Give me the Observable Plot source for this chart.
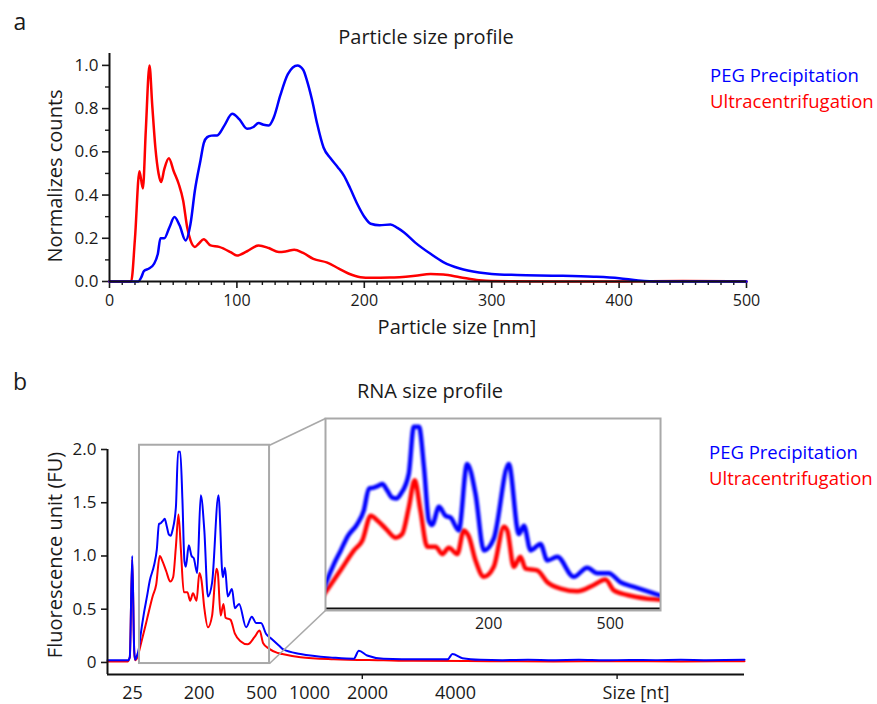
<!DOCTYPE html>
<html>
<head>
<meta charset="utf-8">
<script src="https://cdn.jsdelivr.net/npm/d3@7"></script>
<script src="https://cdn.jsdelivr.net/npm/@observablehq/plot@0.6"></script>
<style>
  body { margin: 0; background: #fff; }
  #page { position: relative; width: 877px; height: 704px; overflow: hidden; font-family: "Open Sans", sans-serif; color: #1a1a1a; background: #fff; }
  .lbl { position: absolute; white-space: nowrap; line-height: 1.2; }
</style>
</head>
<body>
<div id="page"></div>
<script>
// ---------------- Panel a: particle size profile ----------------
const sizeNmUC = [0, 17, 20, 23.5, 26.2, 28.5, 31.4, 33.5, 36, 38.5, 40.5, 43, 46.6, 50.4, 54.4, 57.8, 61, 63.6, 67, 70, 74, 79.3, 86, 95, 100, 108, 117, 125, 133, 139, 145, 152, 160, 171, 180, 188, 197, 205, 220, 240, 252, 262, 275, 290, 300, 350, 400, 450, 500];
const countsUC = [0, 0, 0.2, 0.51, 0.43, 0.7, 1.0, 0.82, 0.62, 0.5, 0.46, 0.52, 0.57, 0.51, 0.45, 0.375, 0.25, 0.19, 0.16, 0.175, 0.195, 0.167, 0.16, 0.136, 0.12, 0.14, 0.167, 0.155, 0.136, 0.14, 0.147, 0.132, 0.105, 0.087, 0.06, 0.036, 0.02, 0.017, 0.018, 0.027, 0.035, 0.032, 0.02, 0.006, 0.002, 0, 0, 0.002, 0];

const sizeNmPEG = [0, 22.5, 25, 27, 31, 35, 38, 40, 43, 47, 51, 55, 59.7, 63.6, 67, 71.4, 74, 76.7, 80, 84.5, 90, 96.3, 102, 108, 113, 117, 121, 125, 129, 134, 140, 147.5, 152, 155, 159, 163, 168, 173.5, 179, 184, 189, 194.4, 200, 205, 212, 220.6, 226, 231, 240, 252, 262, 275, 290, 300, 320, 350, 380, 400, 415, 430, 500];
const countsPEG = [0, 0, 0.02, 0.048, 0.06, 0.082, 0.13, 0.2, 0.2, 0.25, 0.298, 0.26, 0.19, 0.267, 0.42, 0.56, 0.64, 0.668, 0.675, 0.676, 0.72, 0.776, 0.75, 0.707, 0.715, 0.733, 0.725, 0.722, 0.76, 0.86, 0.96, 1.0, 0.98, 0.93, 0.84, 0.73, 0.62, 0.57, 0.53, 0.49, 0.43, 0.36, 0.3, 0.267, 0.26, 0.264, 0.248, 0.228, 0.18, 0.128, 0.09, 0.06, 0.042, 0.035, 0.03, 0.027, 0.022, 0.015, 0.005, 0, 0];

const aTicksX = [0, 100, 200, 300, 400, 500];
const aTicksY = [0, 0.2, 0.4, 0.6, 0.8, 1.0];

// ---------------- Panel b: RNA size profile (migration time axis) ----------------
const timePEG = [20, 21.6, 21.75, 21.94, 22.1, 22.17, 22.3, 22.46, 22.59, 22.87, 23.1, 23.32, 23.65, 23.87, 24.04, 24.2, 24.35, 24.49, 24.65, 24.82, 24.96, 25.1, 25.37, 25.54, 25.71, 25.88, 26.04, 26.15, 26.38, 26.6, 26.77, 27.04, 27.32, 27.6, 27.88, 28.21, 28.71, 29.05, 29.22, 29.44, 29.77, 30.0, 30.33, 30.88, 31.33, 31.67, 32.05, 32.44, 32.89, 33.45, 33.84, 35.15, 37.76, 39.33, 39.73, 40.38, 41.66, 44.57, 46.7, 47.08, 47.86, 49.28, 51, 53, 55, 57, 59, 61, 63, 65, 67, 70];
const fuPEG = [0.02, 0.02, 0.05, 1.0, 0.1, 0.025, 0.06, 0.13, 0.25, 0.47, 0.62, 0.77, 0.91, 1.06, 1.30, 1.31, 1.33, 1.35, 1.28, 1.20, 1.19, 1.24, 1.46, 1.98, 1.98, 1.53, 0.95, 0.90, 1.10, 1.0, 0.98, 0.84, 1.57, 1.24, 0.62, 0.75, 1.57, 0.80, 0.89, 0.62, 0.69, 0.51, 0.55, 0.33, 0.43, 0.37, 0.37, 0.27, 0.22, 0.16, 0.12, 0.08, 0.045, 0.035, 0.11, 0.065, 0.035, 0.03, 0.03, 0.08, 0.04, 0.025, 0.022, 0.026, 0.022, 0.025, 0.02, 0.024, 0.022, 0.025, 0.022, 0.025];

const timeUC = [20, 21.6, 21.75, 21.94, 22.1, 22.17, 22.35, 22.59, 23.09, 23.54, 23.82, 24.1, 24.32, 24.6, 24.93, 25.15, 25.37, 25.57, 25.76, 25.99, 26.27, 26.49, 26.71, 26.99, 27.21, 27.38, 27.6, 27.88, 28.21, 28.55, 28.66, 28.88, 29.1, 29.27, 29.66, 30.0, 30.44, 31.0, 31.55, 31.94, 32.22, 32.67, 33.34, 33.72, 35.15, 37.76, 41.66, 44, 50, 55, 60, 65, 70];
const fuUC = [0.01, 0.01, 0.05, 0.97, 0.1, 0.02, 0.05, 0.16, 0.40, 0.62, 0.73, 1.0, 0.95, 0.86, 0.76, 0.80, 1.09, 1.39, 1.06, 0.66, 0.66, 0.58, 0.65, 0.58, 0.84, 0.77, 0.51, 0.33, 0.44, 0.88, 0.84, 0.44, 0.55, 0.42, 0.40, 0.27, 0.2, 0.17, 0.24, 0.30, 0.18, 0.13, 0.09, 0.08, 0.05, 0.03, 0.02, 0.015, 0.012, 0.01, 0.012, 0.01, 0.012];

const bTicksY = [0, 0.5, 1.0, 1.5, 2.0];
const bTicksX = [40, 60];
const ladderSizes = ["25", "200", "500", "1000", "2000", "4000"];
const ladderTimes = [21.96, 27.2, 32.09, 35.86, 40.41, 47.32];
const insetSizes = ["200", "500"];
const insetTimes = [28.04, 32.1];

// zoom window (main chart units) and inset placement (main chart units)
const zoomT = [22.51, 32.72], zoomFu = [-0.01, 2.04];
const insetBoxT = [37.11, 63.41], insetBoxFu = [0.488, 2.291];
const insetT = [22.59, 33.78], insetFu = [-0.04, 2.07];

const BLUE = "#0000ff", RED = "#ff0000";
const FONT = "'Open Sans', sans-serif";

// ---------------- build ----------------
const page = document.getElementById("page");
const zip = (xs, ys, kx, ky) => xs.map((v, i) => ({[kx]: v, [ky]: ys[i]}));
const ucA = zip(sizeNmUC, countsUC, "size", "count");
const pegA = zip(sizeNmPEG, countsPEG, "size", "count");
const ucB = zip(timeUC, fuUC, "t", "fu");
const pegB = zip(timePEG, fuPEG, "t", "fu");
const ladder = ladderSizes.map((s, i) => ({size: s, t: ladderTimes[i]}));
const insetLadder = insetSizes.map((s, i) => ({size: s, t: insetTimes[i]}));

function put(el, left, top) {
  el.style.position = "absolute";
  el.style.left = left + "px";
  el.style.top = top + "px";
  page.appendChild(el);
}
function text(str, x, y, size, opts = {}) {
  const d = document.createElement("div");
  d.className = "lbl";
  d.textContent = str;
  d.style.fontSize = size + "px";
  d.style.left = x + "px";
  d.style.top = y + "px";
  if (opts.color) d.style.color = opts.color;
  const anchor = opts.anchor || "middle";
  const tx = anchor === "start" ? "0" : "-50%";
  d.style.transform = `translate(${tx},-50%)` + (opts.rotate ? ` rotate(${opts.rotate}deg)` : "");
  page.appendChild(d);
}

const minorX = d3.range(10, 500, 10).filter(v => v % 100 !== 0);
const minorY = [0.1, 0.3, 0.5, 0.7, 0.9];

const chartA = Plot.plot({
  width: 877, height: 340,
  marginLeft: 109, marginRight: 131, marginTop: 53, marginBottom: 59,
  style: {fontFamily: FONT, fontSize: "16px", color: "#1a1a1a", background: "transparent", overflow: "visible"},
  x: {domain: [0, 500], label: null},
  y: {domain: [0, 1.055], label: null},
  marks: [
    Plot.axisX(aTicksX, {tickSize: 7, tickPadding: 6, strokeWidth: 1.6, fontSize: 16, label: null}),
    Plot.axisX(minorX, {tickSize: 4, strokeWidth: 1.4, tickFormat: () => "", label: null}),
    Plot.axisY(aTicksY, {tickSize: 7, tickPadding: 4, strokeWidth: 1.6, fontSize: 17, tickFormat: d3.format(".1f"), label: null}),
    Plot.axisY(minorY, {tickSize: 4, strokeWidth: 1.4, tickFormat: () => "", label: null}),
    Plot.line(ucA, {x: "size", y: "count", stroke: RED, strokeWidth: 2.5, curve: "monotone-x"}),
    Plot.line(pegA, {x: "size", y: "count", stroke: BLUE, strokeWidth: 2.5, curve: "monotone-x"}),
    Plot.ruleY([0], {stroke: "#111", strokeWidth: 2}),
    Plot.ruleX([0], {stroke: "#111", strokeWidth: 2})
  ]
});
put(chartA, 0, 0);

const chartB = Plot.plot({
  width: 877, height: 344,
  marginLeft: 107, marginRight: 133, marginTop: 89, marginBottom: 30,
  style: {fontFamily: FONT, fontSize: "16px", color: "#1a1a1a", background: "transparent", overflow: "visible"},
  x: {domain: [20, 70], label: null},
  y: {domain: [-0.113, 2.0], label: null},
  marks: [
    Plot.axisX(bTicksX, {tickSize: 5, strokeWidth: 1.4, tickFormat: () => "", label: null}),
    Plot.text(ladder, {x: "t", text: "size", frameAnchor: "bottom", dy: 19, fontSize: 18, lineAnchor: "middle"}),
    Plot.axisY(bTicksY, {tickSize: 6, tickPadding: 5, strokeWidth: 1.6, fontSize: 17, tickFormat: d => d === 0 ? "0" : d.toFixed(1), label: null}),
    Plot.line(ucB, {x: "t", y: "fu", stroke: RED, strokeWidth: 2, curve: "monotone-x"}),
    Plot.line(pegB, {x: "t", y: "fu", stroke: BLUE, strokeWidth: 2, curve: "monotone-x"}),
    Plot.rect([{}], {x1: () => zoomT[0], x2: () => zoomT[1], y1: () => zoomFu[0], y2: () => zoomFu[1], fill: "none", stroke: "#a9a9a9", strokeWidth: 2}),
    Plot.link([{}], {x1: () => zoomT[1], y1: () => zoomFu[1], x2: () => insetBoxT[0], y2: () => insetBoxFu[1], stroke: "#a9a9a9", strokeWidth: 1.6}),
    Plot.link([{}], {x1: () => zoomT[1], y1: () => zoomFu[0], x2: () => insetBoxT[0], y2: () => insetBoxFu[0], stroke: "#a9a9a9", strokeWidth: 1.6}),
    Plot.ruleY([-0.113], {stroke: "#111", strokeWidth: 2}),
    Plot.ruleX([20], {stroke: "#111", strokeWidth: 2})
  ]
});
const B_TOP = 360;
put(chartB, 0, B_TOP);

// inset placed from the main chart's scales
const sx = chartB.scale("x"), sy = chartB.scale("y");
const iLeft = sx.apply(insetBoxT[0]), iRight = sx.apply(insetBoxT[1]);
const iTop = sy.apply(insetBoxFu[1]) + B_TOP, iBottom = sy.apply(insetBoxFu[0]) + B_TOP;
const iW = iRight - iLeft, iH = iBottom - iTop;

const inset = Plot.plot({
  width: iW, height: iH + 26,
  marginLeft: 0, marginRight: 0, marginTop: 0, marginBottom: 26,
  style: {fontFamily: FONT, fontSize: "16px", color: "#1a1a1a", background: "transparent", overflow: "visible"},
  x: {domain: insetT, axis: null},
  y: {domain: insetFu, axis: null},
  marks: [
    Plot.frame({fill: "white", stroke: "none"}),
    Plot.line(ucB, {x: "t", y: "fu", stroke: RED, strokeWidth: 4.5, curve: "monotone-x", clip: true}),
    Plot.line(pegB, {x: "t", y: "fu", stroke: BLUE, strokeWidth: 4.5, curve: "monotone-x", clip: true}),
    Plot.ruleY([insetFu[0]], {stroke: "#111", strokeWidth: 2, dy: -2}),
    Plot.frame({stroke: "#a9a9a9", strokeWidth: 2}),
    Plot.text(insetLadder, {x: "t", text: "size", frameAnchor: "bottom", dy: 13, fontSize: 16, lineAnchor: "middle"})
  ]
});
// soften the thick inset lines
const defs = d3.select(inset).insert("defs", ":first-child");
defs.append("filter").attr("id", "soft").attr("x", "-5%").attr("y", "-5%").attr("width", "110%").attr("height", "110%")
  .append("feGaussianBlur").attr("stdDeviation", 0.8);
d3.select(inset).selectAll('g[aria-label="line"] path').attr("filter", "url(#soft)");
put(inset, iLeft, iTop);

// ---------------- texts ----------------
text("a", 20, 22, 23);
text("b", 20, 382, 23);
text("Particle size profile", 426, 37, 20);
text("RNA size profile", 430, 391, 20);
text("Particle size [nm]", 457, 327, 20);
text("Normalizes counts", 55, 176, 20, {rotate: -90});
text("Fluorescence unit (FU)", 55, 555, 20, {rotate: -90});
text("Size [nt]", 636, 693, 18);
text("PEG Precipitation", 710, 75, 18.5, {anchor: "start", color: BLUE});
text("Ultracentrifugation", 710, 101, 18.5, {anchor: "start", color: RED});
text("PEG Precipitation", 709, 452, 18.5, {anchor: "start", color: BLUE});
text("Ultracentrifugation", 709, 478, 18.5, {anchor: "start", color: RED});
</script>
</body>
</html>
